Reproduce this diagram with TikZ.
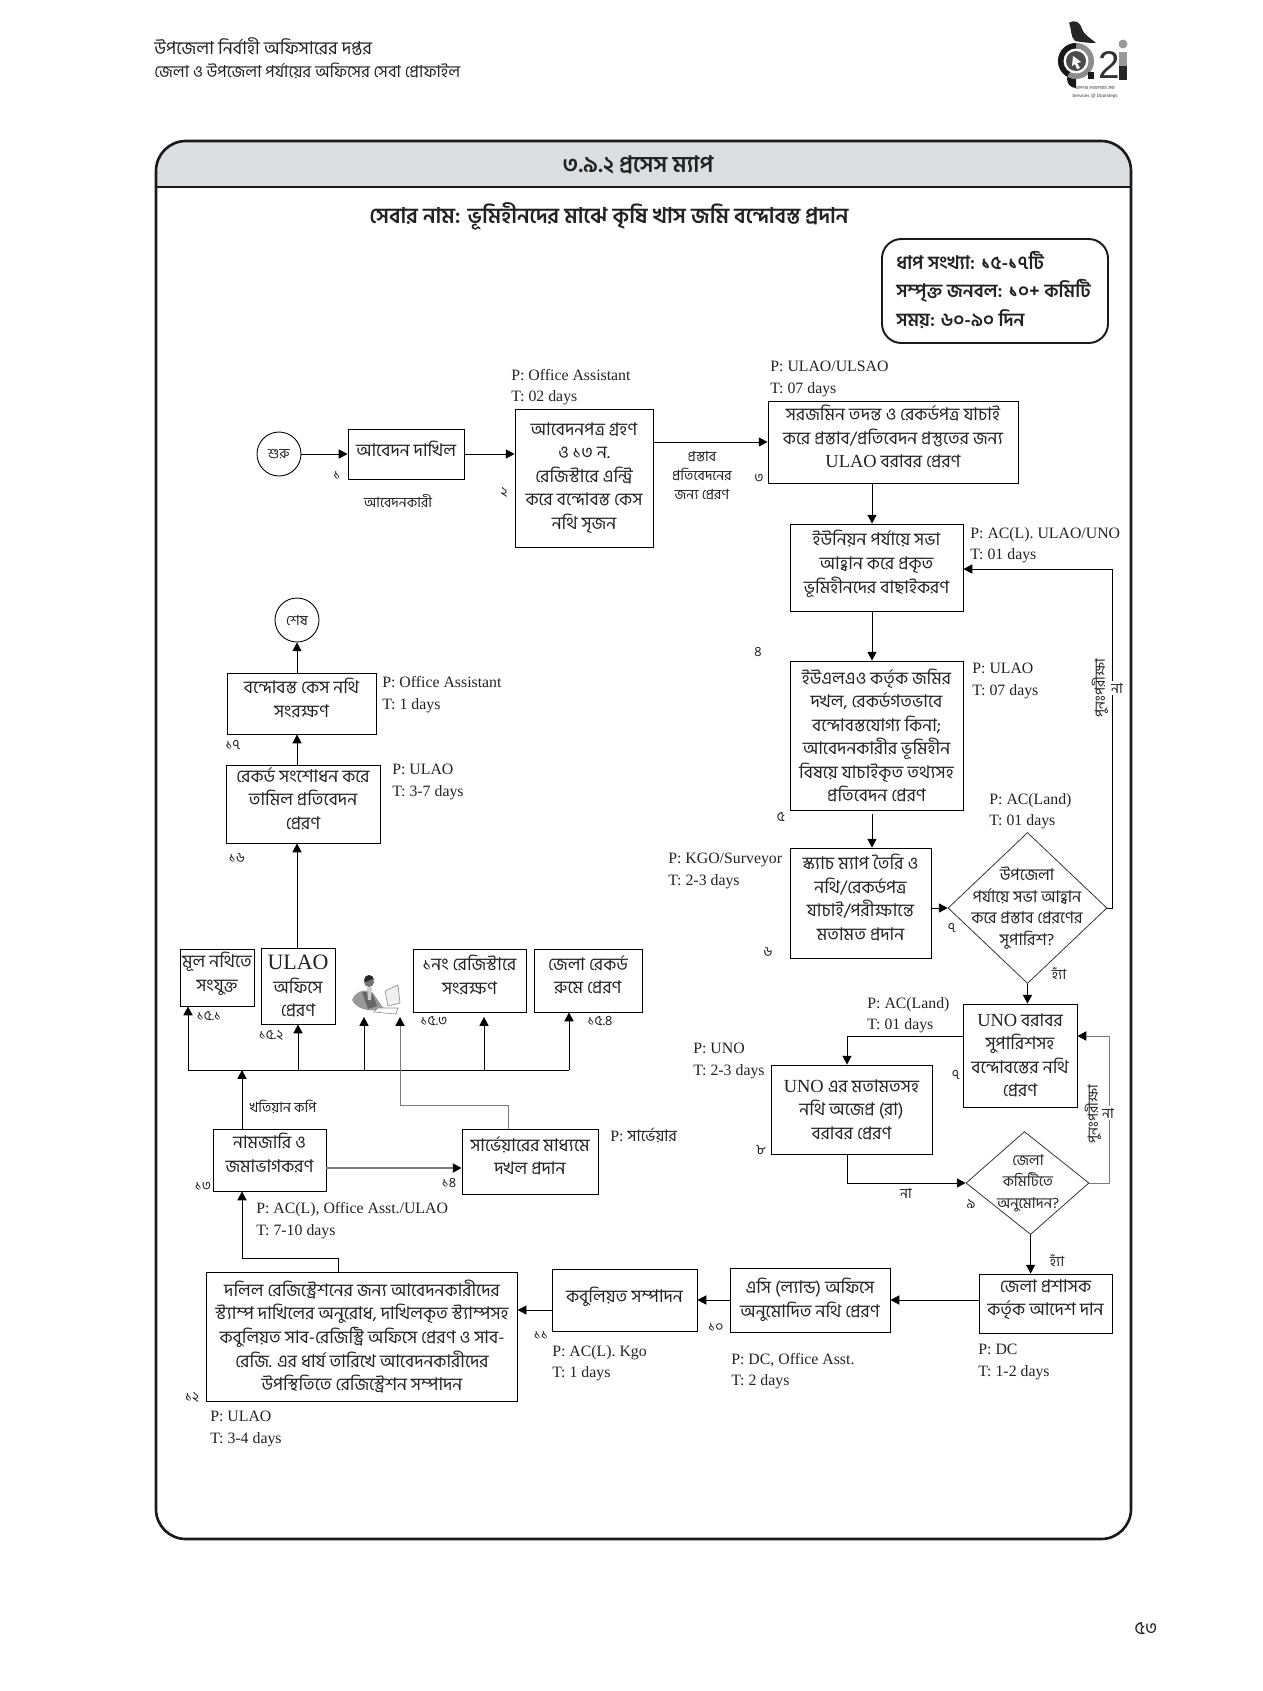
\documentclass[tikz,border=0pt]{standalone}
\usepackage{fontspec}
\setmainfont{Liberation Serif}
\newfontfamily\bn[Script=Bengali]{Hind Siliguri}
\newfontfamily\lgo{Liberation Sans}
\usetikzlibrary{arrows.meta,shapes.geometric}
\definecolor{HeadGray}{HTML}{DCDDDE}
\definecolor{FrameBlack}{HTML}{1A1A1A}
\definecolor{LineGray}{HTML}{7A7A7A}
\definecolor{InkText}{HTML}{222222}
\tikzset{
  flowbox/.style={draw=black, line width=0.55pt, inner sep=0pt, align=center, text=InkText, font=\fontsize{10}{13.4}\selectfont\bn},
  liftbox/.style={flowbox, text depth=6.5pt},
  diabox/.style={draw=black!80, line width=0.45pt, diamond, inner sep=0pt},
  diatext/.style={align=center, text=InkText, font=\fontsize{9.3}{12.2}\selectfont\bn},
  termbox/.style={draw=black, line width=0.5pt, circle, inner sep=0pt, minimum size=0.88cm, text=InkText, font=\fontsize{8}{9}\selectfont\bn},
  ptlabel/.style={anchor=west, align=left, inner sep=0pt, yshift=-1.1pt, text=InkText, font=\fontsize{9}{12.2}\selectfont},
  numlabel/.style={inner sep=0pt, text=InkText, font=\fontsize{8}{8}\selectfont\bn},
  notelabel/.style={inner sep=0pt, align=center, text=InkText, font=\fontsize{8}{10.8}\selectfont\bn},
  flowline/.style={->, >={Triangle[length=5pt,width=5.2pt]}, line width=0.5pt},
  grayline/.style={flowline, draw=LineGray, >={Triangle[length=5pt,width=5.2pt,black]}}
}
\begin{document}
\begin{tikzpicture}[x=0.02cm, y=-0.02cm]
  \useasboundingbox (0,0) rectangle (1262,1691);

  % Page header
  \node[anchor=west, inner sep=0pt, text=InkText, font=\fontsize{10.2}{12}\selectfont\bn] (pagehead) at (154,47) {উপজেলা নির্বাহী অফিসারের দপ্তর};
  \node[anchor=west, inner sep=0pt, text=InkText, font=\fontsize{9.4}{12}\selectfont\bn] (pagesub) at (154,71) {জেলা ও উপজেলা পর্যায়ের অফিসের সেবা প্রোফাইল};
  \node[text=InkText, font=\fontsize{10.5}{12}\selectfont\bn] (pagenum) at (1146,1629) {৫৩};

  % Logo
  \fill[black!85] (1069,23) .. controls (1075,19) and (1080,22) .. (1082,29) .. controls (1085,36) and (1092,39) .. (1096,43) .. controls (1088,43) and (1080,42) .. (1075,41) .. controls (1070,36) and (1072,30) .. (1069,23) -- cycle;
  \fill[black!45] (1076,61) circle (18);
  \fill[black!90] (1076,79) arc (90:270:18) -- (1076,70) arc (270:90:9) -- cycle;
  \fill[black!90] (1088,72) rectangle (1094,79);
  \fill[white] (1076,61) circle (12.5);
  \fill[black!70] (1076,61) circle (10);
  \fill[white] (1073,56) -- (1081,62) -- (1077,63) -- (1080,68) -- (1077,69) -- (1075,64) -- (1072,66) -- cycle;
  \node[inner sep=0pt, text=black!80, font=\fontsize{22}{22}\selectfont\lgo] (logotwo) at (1109,65) {2};
  \fill[black!40] (1123,44) circle (4.5);
  \fill[black!40] (1119,52) rectangle (1127,66);
  \fill[black!85] (1119,66) rectangle (1127,80);
  \node[inner sep=0pt, text=black!80, font=\fontsize{2.4}{3}\selectfont\bn] (logobn) at (1095,88) {আপনার দোরগোড়ায় সেবা};
  \node[inner sep=0pt, text=black!80, font=\fontsize{2.6}{3}\selectfont\lgo] (logoen) at (1095,96) {Services @ Doorsteps};

  % Frame
  \fill[HeadGray] (156,187) [rounded corners=17] -- (156,141) -- (1131,141) [sharp corners] -- (1131,187) -- cycle;
  \draw[FrameBlack, line width=1.5pt, rounded corners=17] (156,141) rectangle (1131,1539);
  \draw[FrameBlack, line width=1.3pt] (156,187) -- (1131,187);
  \node[font=\fontsize{12.9}{14}\selectfont\bfseries\bn, text=InkText] (maptitle) at (638,165) {৩.৯.২ প্রসেস ম্যাপ};
  \node[font=\fontsize{12.3}{14}\selectfont\bfseries\bn, text=InkText] (svcname) at (609,216) {সেবার নাম: ভূমিহীনদের মাঝে কৃষি খাস জমি বন্দোবস্ত প্রদান};
  \draw[FrameBlack, line width=1.1pt, rounded corners=11] (882,239) rectangle (1108,343);
  \node[anchor=west, inner sep=0pt, align=left, text=InkText, font=\fontsize{10.6}{16}\selectfont\bfseries\bn] (sumbox) at (896,290) {ধাপ সংখ্যা: ১৫-১৭টি\\সম্পৃক্ত জনবল: ১০+ কমিটি\\সময়: ৬০-৯০ দিন};

  % Boxes, top row and right column
  \node[termbox] (startnode) at (279,454) {শুরু};
  \node[liftbox, minimum width=2.32cm, minimum height=1.00cm] (filebox) at (406,454) {আবেদন দাখিল};
  \node[flowbox, minimum width=2.76cm, minimum height=2.76cm] (recvbox) at (584,478) {আবেদনপত্র গ্রহণ\\ও ১৩ ন.\\রেজিস্টারে এন্ট্রি\\করে বন্দোবস্ত কেস\\নথি সৃজন};
  \node[liftbox, minimum width=5.00cm, minimum height=1.64cm] (probebox) at (893,442) {সরজমিন তদন্ত ও রেকর্ডপত্র যাচাই\\করে প্রস্তাব/প্রতিবেদন প্রস্তুতের জন্য\\{\rmfamily\fontsize{10.5}{13.4}\selectfont ULAO} বরাবর প্রেরণ};
  \node[liftbox, minimum width=3.46cm, minimum height=1.74cm] (unionbox) at (876.5,567.5) {ইউনিয়ন পর্যায়ে সভা\\আহ্বান করে প্রকৃত\\ভূমিহীনদের বাছাইকরণ};
  \node[flowbox, minimum width=3.46cm, minimum height=2.98cm] (landbox) at (876.5,735.5) {ইউএলএও কর্তৃক জমির\\দখল, রেকর্ডগতভাবে\\বন্দোবস্তযোগ্য কিনা;\\আবেদনকারীর ভূমিহীন\\বিষয়ে যাচাইকৃত তথ্যসহ\\প্রতিবেদন প্রেরণ};
  \node[liftbox, minimum width=2.82cm, minimum height=2.20cm] (sketchbox) at (860.5,903) {স্ক্যাচ ম্যাপ তৈরি ও\\নথি/রেকর্ডপত্র\\যাচাই/পরীক্ষান্তে\\মতামত প্রদান};
  \node[diabox, minimum width=3.18cm, minimum height=3.02cm] (upzdia) at (1027.5,908) {};
  \node[diatext] (upztext) at (1027,908) {উপজেলা\\পর্যায়ে সভা আহ্বান\\করে প্রস্তাব প্রেরণের\\সুপারিশ?};
  \node[flowbox, minimum width=2.28cm, minimum height=2.06cm] (unobox) at (1020,1055.5) {{\rmfamily\fontsize{10.5}{13.4}\selectfont UNO} বরাবর\\সুপারিশসহ\\বন্দোবস্তের নথি\\প্রেরণ};
  \node[flowbox, minimum width=3.22cm, minimum height=1.78cm] (opinionbox) at (851.5,1109.5) {{\rmfamily\fontsize{10.5}{13.4}\selectfont UNO} এর মতামতসহ\\নথি অজেপ্র (রা)\\বরাবর প্রেরণ};
  \node[diabox, xslant=-0.06, minimum width=2.46cm, minimum height=2.06cm] (jeladia) at (1027.5,1183) {};
  \node[diatext, font=\fontsize{8.5}{12.2}\selectfont\bn] (jelatext) at (1028,1183) {জেলা\\কমিটিতে\\অনুমোদন?};
  \node[liftbox, minimum width=2.66cm, minimum height=1.18cm] (dcbox) at (1045.5,1303.5) {জেলা প্রশাসক\\কর্তৃক আদেশ দান};

  % Boxes, bottom row
  \node[flowbox, minimum width=3.20cm, minimum height=1.28cm] (acbox) at (810,1300) {এসি (ল্যান্ড) অফিসে\\অনুমোদিত নথি প্রেরণ};
  \node[liftbox, minimum width=2.90cm, minimum height=1.24cm] (kabulbox) at (624.5,1300) {কবুলিয়ত সম্পাদন};
  \node[flowbox, minimum width=6.21cm, minimum height=2.58cm] (regbox) at (362,1336.5) {দলিল রেজিস্ট্রেশনের জন্য আবেদনকারীদের\\স্ট্যাম্প দাখিলের অনুরোধ, দাখিলকৃত স্ট্যাম্পসহ\\কবুলিয়ত সাব-রেজিস্ট্রি অফিসে প্রেরণ ও সাব-\\রেজি. এর ধার্য তারিখে আবেদনকারীদের\\উপস্থিতিতে রেজিস্ট্রেশন সম্পাদন};
  \node[liftbox, text depth=8.5pt, minimum width=2.26cm, minimum height=1.24cm] (namebox) at (269.5,1160) {নামজারি ও\\জমাভাগকরণ};
  \node[liftbox, minimum width=2.72cm, minimum height=1.30cm] (possbox) at (530,1161.5) {সার্ভেয়ারের মাধ্যমে\\দখল প্রদান};

  % Boxes, left column
  \node[liftbox, minimum width=1.48cm, minimum height=1.14cm] (attachbox) at (217,977.5) {মূল নথিতে\\সংযুক্ত};
  \node[flowbox, minimum width=1.48cm, minimum height=1.52cm] (ulaobox) at (298,986) {{\rmfamily\fontsize{12.5}{13.4}\selectfont ULAO}\\অফিসে\\প্রেরণ};
  \node[liftbox, minimum width=2.26cm, minimum height=1.26cm] (regkeepbox) at (469.5,980.5) {১নং রেজিস্টারে\\সংরক্ষণ};
  \node[liftbox, minimum width=2.16cm, minimum height=1.26cm] (roombox) at (588,980.5) {জেলা রেকর্ড\\রুমে প্রেরণ};
  \node[liftbox, minimum width=3.08cm, minimum height=1.56cm] (fixbox) at (303,804) {রেকর্ড সংশোধন করে\\তামিল প্রতিবেদন\\প্রেরণ};
  \node[liftbox, minimum width=2.98cm, minimum height=1.22cm] (keepbox) at (301.5,703.5) {বন্দোবস্ত কেস নথি\\সংরক্ষণ};
  \node[termbox] (endnode) at (297,620) {শেষ};

  % Free ends and columns
  \coordinate (midcol) at (872,0);
  \coordinate (feedone) at (1112,0);
  \coordinate (feedtwo) at (1109,0);
  \coordinate (unocol) at (847,0);
  \coordinate (leftcol) at (297,0);
  \coordinate (busy) at (0,1070);
  \coordinate (tipy) at (0,1017);
  \coordinate (namecol) at (242,0);
  \coordinate (attachcol) at (188,0);
  \coordinate (ulaocol) at (298,0);
  \coordinate (mancol) at (364,0);
  \coordinate (keepcol) at (484,0);
  \coordinate (roomcol) at (569,0);
  \coordinate (pcxcol) at (400,0);

  % Connectors
  \draw[flowline] (startnode.east) -- (filebox.west);
  \draw[flowline] (filebox.east) -- (filebox.east -| recvbox.west);
  \draw[flowline] (probebox.west -| recvbox.east) -- (probebox.west);
  \draw[flowline] (midcol |- probebox.south) -- (midcol |- unionbox.north);
  \draw[flowline] (midcol |- unionbox.south) -- (midcol |- landbox.north);
  \draw[flowline, shorten <=2pt] (midcol |- landbox.south) -- (midcol |- sketchbox.north);
  \draw[flowline] (upzdia.west -| sketchbox.east) -- (upzdia.west);
  \draw[flowline] (upzdia.east) -- (feedone |- upzdia.east) -- (feedone |- 0,569) -- (unionbox.east |- 0,569);
  \draw[flowline] (upzdia.south) -- (upzdia.south |- unobox.north);
  \draw[flowline] (unobox.west |- 0,1036) -- (unocol |- 0,1036) -- (unocol |- opinionbox.north);
  \draw[flowline] (unocol |- opinionbox.south) -- (unocol |- jeladia.west) -- (jeladia.west);
  \draw[grayline] (jeladia.east) -- (feedtwo |- jeladia.east) -- (feedtwo |- 0,1036) -- (unobox.east |- 0,1036);
  \draw[flowline] (jeladia.south) -- (jeladia.south |- dcbox.north);
  \draw[flowline] (dcbox.west |- acbox.east) -- (acbox.east);
  \draw[flowline] (acbox.west) -- (kabulbox.east);
  \draw[flowline] (kabulbox.west |- 0,1310) -- (regbox.east |- 0,1310);
  \draw[flowline] (338,1272) -- (338,1258) -- (namecol |- 0,1258) -- (namecol |- namebox.south);
  \draw[flowline] (namecol |- namebox.north) -- (namecol |- busy);
  \draw[grayline, line width=0.9pt] (namebox.east |- 0,1168) -- (possbox.west |- 0,1168);
  \draw[line width=0.5pt] (attachcol |- busy) -- (roomcol |- busy);
  \draw[flowline] (attachcol |- busy) -- (attachcol |- attachbox.south);
  \draw[flowline] (ulaocol |- busy) -- (ulaocol |- ulaobox.south);
  \draw[flowline] (mancol |- busy) -- (mancol |- tipy);
  \draw[flowline] (keepcol |- busy) -- (keepcol |- tipy);
  \draw[flowline] (roomcol |- busy) -- (roomcol |- roombox.south);
  \draw[grayline] (508,1129) -- (508,1105) -- (pcxcol |- 0,1105) -- (pcxcol |- tipy);
  \draw[flowline] (leftcol |- ulaobox.north) -- (leftcol |- fixbox.south);
  \draw[flowline] (leftcol |- fixbox.north) -- (leftcol |- keepbox.south);
  \draw[flowline] (leftcol |- keepbox.north) -- (endnode.south);

  % Person at the desk
  \fill[black!40] (352,1000) .. controls (354,993) and (362,989) .. (370,991) .. controls (376,995) and (380,1005) .. (384,1008) .. controls (376,1012) and (358,1012) .. (352,1000) -- cycle;
  \fill[black!60] (362,992) -- (372,992) -- (377,1006) -- (368,1009) -- cycle;
  \fill[black!20] (367,987) -- (372,987) -- (371,1000) -- (368,1000) -- cycle;
  \fill[black!55] (369,982) circle (5);
  \fill[black!85] (364,980) arc (180:360:5) -- (372,979) -- (366,982) -- cycle;
  \draw[black!45, line width=0.35pt, fill=black!6] (385,991) -- (398,985) -- (400,1003) -- (388,1006) -- cycle;
  \draw[black!45, line width=0.35pt, fill=white] (378,1008) -- (398,1008) -- (396,1014) -- (374,1012) -- cycle;

  % Actor and time labels
  \node[ptlabel] (ptrecv) at (511,385) {P: Office Assistant\\T: 02 days};
  \node[ptlabel] (ptprobe) at (770,377) {P: ULAO/ULSAO\\T: 07 days};
  \node[ptlabel] (ptunion) at (970,543) {P: AC(L). ULAO/UNO\\T: 01 days};
  \node[ptlabel] (ptland) at (972,679) {P: ULAO\\T: 07 days};
  \node[ptlabel] (ptupz) at (989,809) {P: AC(Land)\\T: 01 days};
  \node[ptlabel] (ptsketch) at (668,869) {P: KGO/Surveyor\\T: 2-3 days};
  \node[ptlabel] (ptuno) at (867,1013) {P: AC(Land)\\T: 01 days};
  \node[ptlabel] (ptopin) at (693,1059) {P: UNO\\T: 2-3 days};
  \node[ptlabel] (ptac) at (731,1369) {P: DC, Office Asst.\\T: 2 days};
  \node[ptlabel] (ptdc) at (978,1360) {P: DC\\T: 1-2 days};
  \node[ptlabel] (ptkabul) at (552,1361) {P: AC(L). Kgo\\T: 1 days};
  \node[ptlabel] (ptreg) at (210,1427) {P: ULAO\\T: 3-4 days};
  \node[ptlabel] (ptname) at (256,1218.5) {P: AC(L), Office Asst./ULAO\\T: 7-10 days};
  \node[ptlabel] (ptposs) at (610,1134) {P: {\bn\fontsize{9}{10}\selectfont সার্ভেয়ার}};
  \node[ptlabel] (ptkeep) at (382,692.5) {P: Office Assistant\\T: 1 days};
  \node[ptlabel] (ptfix) at (392,780) {P: ULAO\\T: 3-7 days};

  % Notes on the flow
  \node[notelabel] (filenote) at (398,501) {আবেদনকারী};
  \node[notelabel] (sendnote) at (702,476) {প্রস্তাব\\প্রতিবেদনের\\জন্য প্রেরণ};
  \node[notelabel] (khatnote) at (283,1107) {খতিয়ান কপি};
  \node[notelabel, fill=white, inner sep=1pt] (noone) at (1117,688) {না};
  \node[notelabel, rotate=90] (reone) at (1100,688) {পুনঃপরীক্ষা};
  \node[notelabel, fill=white, inner sep=1pt] (notwo) at (1108,1113) {না};
  \node[notelabel, rotate=90] (retwo) at (1093,1114) {পুনঃপরীক্ষা};
  \node[notelabel] (nothree) at (906,1193) {না};
  \node[notelabel] (yesone) at (1059,973) {হ্যাঁ};
  \node[notelabel] (yestwo) at (1057,1260) {হ্যাঁ};

  % Step numbers
  \node[numlabel] (nsa) at (337,475) {১};
  \node[numlabel] (nsb) at (504,492) {২};
  \node[numlabel] (nsc) at (759,478) {৩};
  \node[numlabel] (nsd) at (758,652) {৪};
  \node[numlabel] (nse) at (781,817) {৫};
  \node[numlabel] (nsf) at (768,952) {৬};
  \node[numlabel] (nsg) at (952,928) {৭};
  \node[numlabel] (nsh) at (956,1075) {৭};
  \node[numlabel] (nsi) at (761,1150) {৮};
  \node[numlabel] (nsj) at (971,1204) {৯};
  \node[numlabel] (nsk) at (716,1327) {১০};
  \node[numlabel] (nsl) at (541,1335) {১১};
  \node[numlabel] (nsm) at (192,1397) {১২};
  \node[numlabel] (nsn) at (203,1186) {১৩};
  \node[numlabel] (nso) at (449,1183) {১৪};
  \node[numlabel] (nsp) at (209,1016) {১৫.১};
  \node[numlabel] (nsq) at (271,1035) {১৫.২};
  \node[numlabel] (nsr) at (434,1021) {১৫.৩};
  \node[numlabel] (nss) at (600,1021) {১৫.৪};
  \node[numlabel] (nst) at (237,858) {১৬};
  \node[numlabel] (nsu) at (233,745) {১৭};
\end{tikzpicture}
\end{document}
